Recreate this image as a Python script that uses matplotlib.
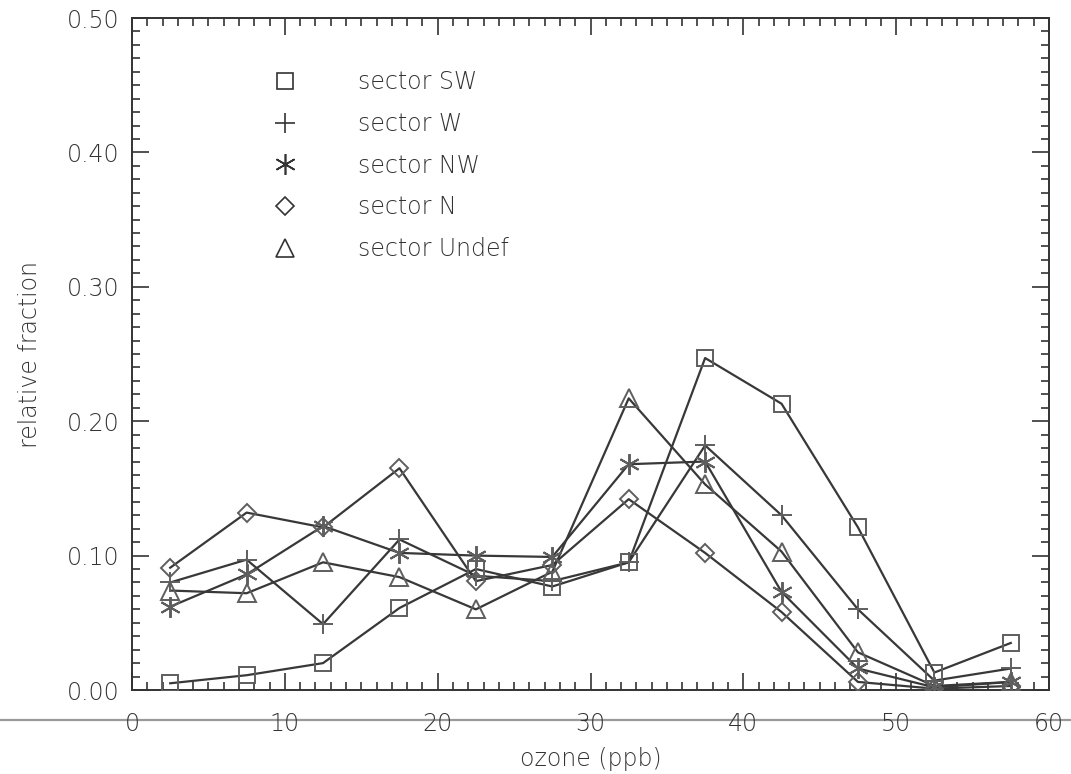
import matplotlib
matplotlib.use("Agg")
import matplotlib.pyplot as plt
from matplotlib.ticker import MultipleLocator, FormatStrFormatter
from matplotlib.lines import Line2D

# ---- data ----
ozone = [2.5, 7.5, 12.5, 17.5, 22.5, 27.5, 32.5, 37.5, 42.5, 47.5, 52.5, 57.5]
sector_SW = [0.005, 0.011, 0.020, 0.061, 0.090, 0.077, 0.095, 0.247, 0.213, 0.121, 0.013, 0.035]
sector_W = [0.080, 0.097, 0.049, 0.112, 0.085, 0.081, 0.095, 0.182, 0.130, 0.060, 0.007, 0.016]
sector_NW = [0.062, 0.086, 0.122, 0.102, 0.100, 0.099, 0.168, 0.170, 0.073, 0.016, 0.002, 0.006]
sector_N = [0.091, 0.132, 0.121, 0.165, 0.081, 0.093, 0.142, 0.102, 0.058, 0.006, 0.001, 0.003]
sector_Undef = [0.074, 0.072, 0.095, 0.084, 0.060, 0.088, 0.217, 0.153, 0.103, 0.028, 0.003, 0.006]
labels = ["sector SW", "sector W", "sector NW", "sector N", "sector Undef"]
xticks = [0, 10, 20, 30, 40, 50, 60]
yticks = [0.0, 0.1, 0.2, 0.3, 0.4, 0.5]

TXT = "#333333"
LINE = "#383838"
MEDGE = "#5e5e5e"
FS = 17

plt.rcParams['font.family'] = ['DejaVu Sans']
plt.rcParams['font.weight'] = 'light'
plt.rcParams['axes.labelweight'] = 'light'
fig = plt.figure(figsize=(10.71, 7.74), dpi=100)
ax = fig.add_axes([132/1071, 1-690/774, (1049-132)/1071, (690-18)/774])

series = [sector_SW, sector_W, sector_NW, sector_N, sector_Undef]
markers = ['s', '+', (6, 2, 0), 'D', '^']
msizes = [12, 15, 15, 9, 13]
handles = []
for vals, m, ms, lab in zip(series, markers, msizes, labels):
    ax.plot(ozone, vals, color=LINE, lw=1.6, zorder=2)
    ax.plot(ozone, vals, linestyle='none', marker=m, markersize=ms,
            markerfacecolor='none', markeredgecolor=MEDGE, markeredgewidth=1.4, zorder=3)
    handles.append(Line2D([], [], linestyle='none', marker=m, markersize=ms,
                          markerfacecolor='none', markeredgecolor=TXT, markeredgewidth=1.2, label=lab))

ax.set_xlim(0, 60)
ax.set_ylim(0, 0.50)
ax.set_xticks(xticks)
ax.set_yticks(yticks)
ax.yaxis.set_major_formatter(FormatStrFormatter('%.2f'))
ax.xaxis.set_minor_locator(MultipleLocator(1))
ax.yaxis.set_minor_locator(MultipleLocator(0.01))
ax.tick_params(which='both', direction='in', top=True, right=True, colors=TXT, width=1.2)
ax.tick_params(which='major', length=12)
ax.tick_params(which='minor', length=6)
ax.tick_params(axis='x', which='major', pad=16, labelsize=FS, labelcolor=TXT)
ax.tick_params(axis='y', which='major', pad=9, labelsize=FS, labelcolor=TXT)
for s in ax.spines.values():
    s.set_color(TXT)
    s.set_linewidth(1.4)

ax.set_xlabel("ozone (ppb)", fontsize=FS, color=TXT, labelpad=8, fontweight='light')
ax.set_ylabel("relative fraction", fontsize=FS, color=TXT, labelpad=18, fontweight='light')

leg = ax.legend(handles=handles, loc='upper left', bbox_to_anchor=(0.131, 0.954),
                frameon=False, fontsize=FS, labelcolor=TXT, handlelength=1.0,
                handletextpad=2.6, labelspacing=0.75, numpoints=1)

# scanner artifact line through the x tick labels
fig.add_artist(Line2D([0, 1], [1-720/774, 1-720/774], transform=fig.transFigure,
                      color="#9a9a9a", lw=1.6, zorder=0))

fig.savefig("out.png", dpi=100, facecolor='white')
